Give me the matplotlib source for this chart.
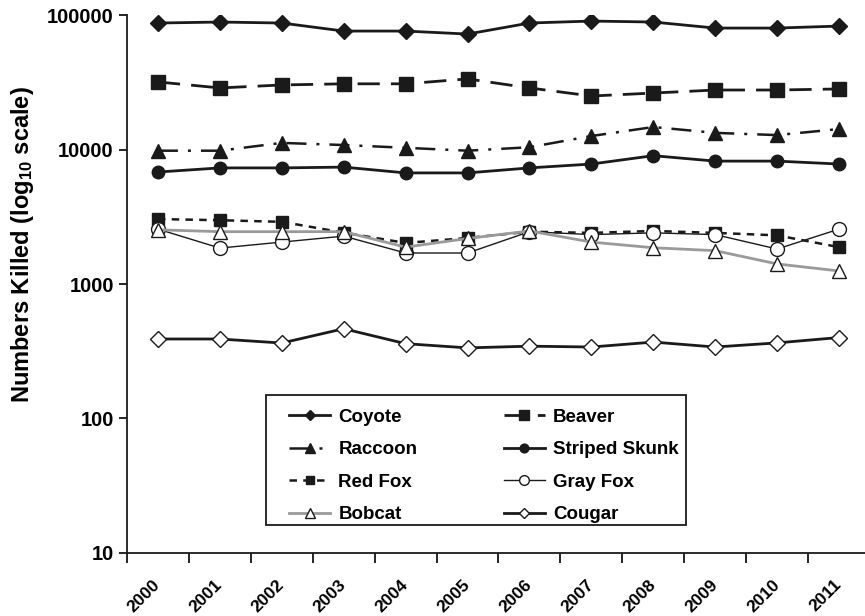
import matplotlib
matplotlib.use('Agg')
import matplotlib.pyplot as plt
from matplotlib.patches import Rectangle
import numpy as np

plt.rcParams['font.family'] = ['Liberation Sans', 'DejaVu Sans']
plt.rcParams['font.weight'] = 'bold'
plt.rcParams['mathtext.fontset'] = 'custom'
plt.rcParams['mathtext.rm'] = 'Liberation Sans:bold'
plt.rcParams['mathtext.bf'] = 'Liberation Sans:bold'
plt.rcParams['mathtext.it'] = 'Liberation Sans:bold'

years = ['2000', '2001', '2002', '2003', '2004', '2005',
         '2006', '2007', '2008', '2009', '2010', '2011']

coyote = [87200, 88700, 87200, 76000, 76000, 72200, 87200, 90200, 88700, 80000, 80000, 82800]
beaver = [31800, 28700, 30200, 30800, 30800, 33500, 28700, 25000, 26300, 27700, 27700, 28200]
raccoon = [9800, 9800, 11200, 10800, 10300, 9800, 10400, 12600, 14700, 13300, 12800, 14200]
skunk = [6800, 7300, 7300, 7400, 6700, 6700, 7300, 7800, 9000, 8200, 8200, 7800]
red_fox = [3040, 2980, 2900, 2410, 2020, 2200, 2450, 2400, 2480, 2400, 2300, 1880]
gray_fox = [2560, 1850, 2050, 2270, 1700, 1700, 2450, 2330, 2400, 2330, 1820, 2560]
bobcat = [2530, 2450, 2450, 2450, 1880, 2180, 2480, 2050, 1860, 1770, 1410, 1250]
cougar = [390, 390, 364, 465, 360, 335, 345, 340, 370, 340, 365, 400]

x = np.arange(len(years))

fig = plt.figure(figsize=(8.65, 6.16), dpi=100)
ax = fig.add_axes([0.1468, 0.1023, 0.859, 0.8733])

k = '#1a1a1a'
h_coy, = ax.plot(x, coyote, color=k, lw=2, marker='D', markersize=8, mfc=k, mec=k, label='Coyote')
h_bea, = ax.plot(x, beaver, color=k, lw=2, dashes=(8, 4), marker='s', markersize=10, mfc=k, mec=k, label='Beaver')
h_rac, = ax.plot(x, raccoon, color=k, lw=1.8, dashes=(8, 4, 1.2, 4), marker='^', markersize=10, mfc=k, mec=k, label='Raccoon')
h_sku, = ax.plot(x, skunk, color=k, lw=2, marker='o', markersize=9, mfc=k, mec=k, label='Striped Skunk')
h_red, = ax.plot(x, red_fox, color=k, lw=1.8, dashes=(3, 2.5), marker='s', markersize=9, mfc=k, mec=k, label='Red Fox')
h_gra, = ax.plot(x, gray_fox, color=k, lw=1, marker='o', markersize=10, mfc='white', mec=k, mew=1, label='Gray Fox')
h_bob, = ax.plot(x, bobcat, color='#9a9a9a', lw=2, marker='^', markersize=10, mfc='white', mec=k, mew=1, label='Bobcat')
h_cou, = ax.plot(x, cougar, color=k, lw=2, marker='D', markersize=8, mfc='white', mec=k, mew=1, label='Cougar')

ax.set_yscale('log')
ax.set_ylim(10, 100000)
ax.set_xlim(-0.5, 11.5)
ax.set_yticks([10, 100, 1000, 10000, 100000])
ax.set_yticklabels(['10', '100', '1000', '10000', '100000'])
ax.yaxis.set_minor_locator(matplotlib.ticker.NullLocator())

ax.set_xticks(x)
ax.set_xticklabels(years, rotation=45, ha='right', rotation_mode='anchor')
ax.set_xticks(np.arange(-0.5, 12, 1), minor=True)
ax.tick_params(axis='x', which='major', length=0, pad=21, labelsize=12.5)
ax.tick_params(axis='x', which='minor', length=7, width=1.2, direction='out')
ax.tick_params(axis='y', which='major', length=6, width=1.2, direction='out', labelsize=14.5)
for lab in ax.get_xticklabels():
    lab.set_va('center')

for s in ['top', 'right']:
    ax.spines[s].set_visible(False)
for s in ['left', 'bottom']:
    ax.spines[s].set_linewidth(1.3)
    ax.spines[s].set_color(k)

ax.set_ylabel(r'Numbers Killed (log$_{10}$ scale)', fontsize=17, fontweight='bold')
ax.yaxis.set_label_coords(-0.122, 0.574)

# legend box drawn by hand so the entries can sit inside it freely
ax.add_patch(Rectangle((0.187, 0.052), 0.565, 0.2417, transform=ax.transAxes,
                       fill=True, facecolor='white', edgecolor=k, lw=1.3, zorder=4))

# row-wise order like the original legend
handles = [h_coy, h_rac, h_red, h_bob, h_bea, h_sku, h_gra, h_cou]
labels = [h.get_label() for h in handles]
leg = ax.legend(handles, labels, loc='upper left', bbox_to_anchor=(0.218, 0.268),
                ncol=2, frameon=False, fontsize=13.5, handlelength=2.2,
                handletextpad=0.43, markerscale=0.7, borderaxespad=0, borderpad=0,
                labelspacing=0.82, columnspacing=4.6)
leg.set_zorder(5)

fig.savefig('out.png', dpi=100)
